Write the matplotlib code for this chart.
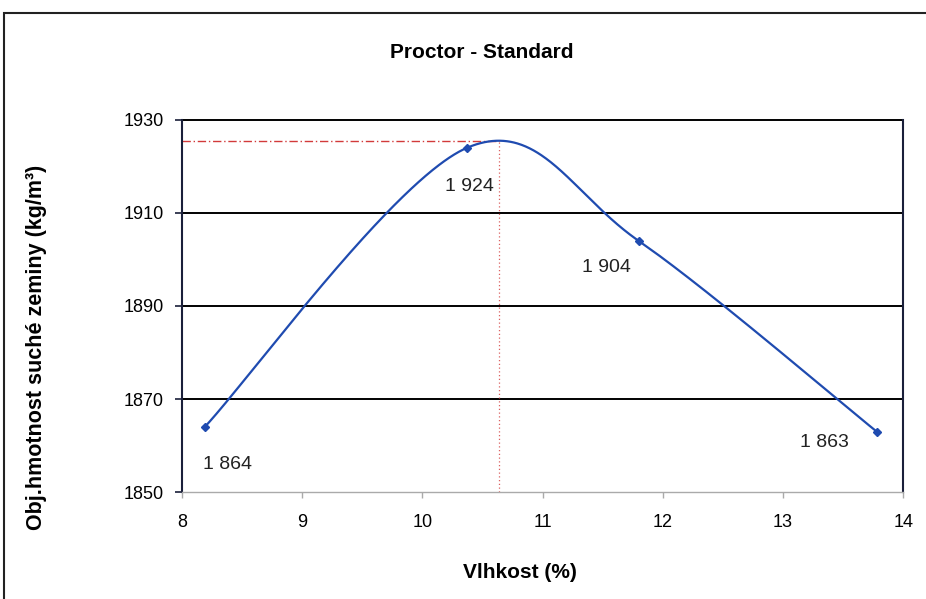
import numpy as np
import matplotlib
matplotlib.use("Agg")
import matplotlib.pyplot as plt
from matplotlib.patches import Rectangle

# Proctor standard compaction test results
moisture = [8.19, 10.37, 11.80, 13.78]          # Vlhkost (%)
dry_density = [1864, 1924, 1904, 1863]          # kg/m3
point_labels = ["1 864", "1 924", "1 904", "1 863"]
x_ticks = [8, 9, 10, 11, 12, 13, 14]
y_ticks = [1850, 1870, 1890, 1910, 1930]

plt.rcParams["font.family"] = ["Liberation Sans", "DejaVu Sans"]

BLUE = "#1f4bb0"
RED = "#d23a3a"


def smooth_curve(xs, ys, n=200):
    """Cardinal (Catmull-Rom style) Bezier smoothing through the points."""
    pts = np.column_stack([xs, ys]).astype(float)
    ext = np.vstack([pts[0], pts, pts[-1]])
    out = []
    t = np.linspace(0, 1, n)[:, None]
    for i in range(len(pts) - 1):
        p0, p1, p2, p3 = ext[i], ext[i + 1], ext[i + 2], ext[i + 3]
        c1 = p1 + (p2 - p0) / 6.0
        c2 = p2 - (p3 - p1) / 6.0
        seg = ((1 - t) ** 3) * p1 + 3 * ((1 - t) ** 2) * t * c1 \
            + 3 * (1 - t) * t ** 2 * c2 + t ** 3 * p2
        out.append(seg)
    curve = np.vstack(out)
    return curve[:, 0], curve[:, 1]


cx, cy = smooth_curve(moisture, dry_density)
imax = int(np.argmax(cy))
w_opt, rho_max = cx[imax], cy[imax]

fig = plt.figure(figsize=(9.26, 5.99), dpi=100)
ax = fig.add_axes([0.1965, 0.1786, 0.7788, 0.6211])

ax.set_xlim(8, 14)
ax.set_ylim(1850, 1930)
ax.set_xticks(x_ticks)
ax.set_yticks(y_ticks)

for y in y_ticks[1:]:
    ax.axhline(y, color="black", lw=1.4, zorder=1, clip_on=False)

# optimum markers
ax.plot([8, w_opt], [rho_max, rho_max], color=RED, lw=1.0,
        linestyle=(0, (6, 2, 1, 2)), zorder=2)
ax.plot([w_opt, w_opt], [1850, rho_max], color=RED, lw=0.9,
        linestyle=(0, (1, 2)), alpha=0.8, zorder=2)

ax.plot(cx, cy, color=BLUE, lw=1.6, zorder=3)
ax.plot(moisture, dry_density, linestyle="none", marker="D", ms=4.5,
        color=BLUE, zorder=4)

offsets = [(16.5, -27), (2, -28), (-23, -19.5), (-37.5, -8)]
for x, y, lab, off in zip(moisture, dry_density, point_labels, offsets):
    ax.annotate(lab, (x, y), xytext=off, textcoords="offset points",
                ha="center", va="center", fontsize=14, color="#222222")

for side in ("left", "right"):
    ax.spines[side].set_color("#1a1f3a")
    ax.spines[side].set_linewidth(1.5)
ax.spines["top"].set_visible(False)
ax.spines["bottom"].set_color("#aaaaaa")
ax.spines["bottom"].set_linewidth(1.0)

ax.tick_params(axis="y", direction="out", length=5, width=1.2,
               color="#1a1f3a", labelsize=13, pad=8)
ax.tick_params(axis="x", direction="out", length=4, width=1.0,
               color="#aaaaaa", labelsize=13, pad=12)

fig.text(520 / 926, 1 - 572 / 599, "Vlhkost (%)", ha="center", va="center",
         fontsize=15, fontweight="bold")
fig.text(37 / 926, 1 - 347 / 599, "Obj.hmotnost suché zeminy (kg/m³)",
         ha="center", va="center", rotation=90, fontsize=15.5,
         fontweight="bold")
fig.text(482 / 926, 1 - 53 / 599, "Proctor - Standard", ha="center",
         va="center", fontsize=15, fontweight="bold")

fig.patches.append(Rectangle((4 / 926, -0.05), 1.0, 1.05 - 13 / 599,
                             transform=fig.transFigure, fill=False,
                             edgecolor="#222222", lw=1.5))

fig.savefig("out.png", dpi=100)
